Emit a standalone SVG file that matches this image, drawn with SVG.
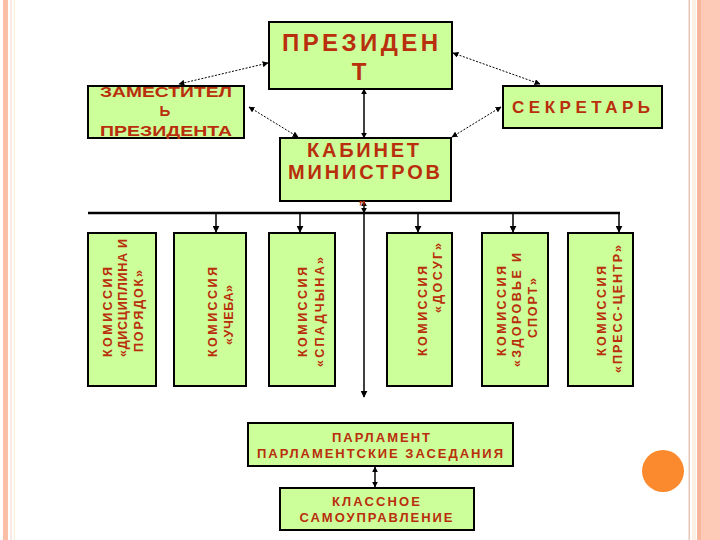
<svg xmlns="http://www.w3.org/2000/svg" width="720" height="540" viewBox="0 0 720 540">
<style>
.box{fill:#ccff99;stroke:#000;stroke-width:2}
.t{fill:#b92e0c;font-family:"Liberation Sans",Arial,sans-serif;font-weight:bold;text-anchor:middle}
.v{font-size:12.5px}
.dot{stroke:#000;stroke-width:1;stroke-dasharray:2 1.5;fill:none;marker-start:url(#ah);marker-end:url(#ah)}
.ln{stroke:#000;stroke-width:1.5;fill:none}
</style>
<defs>
<marker id="ah" viewBox="0 0 10 10" refX="9" refY="5" markerWidth="6" markerHeight="6" markerUnits="userSpaceOnUse" orient="auto-start-reverse"><path d="M0,0 L10,5 L0,10 z" fill="#000"/></marker>
<marker id="ad" viewBox="0 0 10 10" refX="9" refY="5" markerWidth="7" markerHeight="7" markerUnits="userSpaceOnUse" orient="auto-start-reverse"><path d="M0,0 L10,5 L0,10 z" fill="#000"/></marker>
</defs>
<rect width="720" height="540" fill="#fff"/>
<!-- page decorations -->
<rect x="3" y="0" width="5" height="540" fill="#fbbfa6"/>
<rect x="10.5" y="0" width="1" height="540" fill="#f3d6d0"/>
<rect x="14" y="0" width="1" height="540" fill="#f6efd6"/>
<rect x="688.5" y="0" width="1.5" height="540" fill="#e6c6b6"/>
<rect x="692" y="0" width="4" height="540" fill="#fdf0e2"/>
<rect x="697" y="0" width="4" height="540" fill="#f7b59c"/>
<rect x="701" y="0" width="19" height="540" fill="#fdcab7"/>
<circle cx="663" cy="471" r="21" fill="#fb8a2e"/>

<g id="connectors">
<line class="dot" x1="268" y1="63" x2="179" y2="84"/>
<line class="dot" x1="249" y1="107" x2="298" y2="137"/>
<line class="dot" x1="453" y1="53" x2="540" y2="84"/>
<line class="dot" x1="501" y1="107" x2="452" y2="137"/>
<line class="ln" x1="364" y1="89" x2="364" y2="138" marker-start="url(#ah)" marker-end="url(#ah)"/>
<line class="ln" x1="364" y1="201" x2="364" y2="213" marker-start="url(#ah)" marker-end="url(#ah)"/>
<line stroke="#000" stroke-width="2.5" x1="88" y1="213" x2="620" y2="213"/>
<line class="ln" x1="364" y1="213" x2="364" y2="397" marker-end="url(#ad)"/>
<line class="ln" x1="216" y1="213" x2="216" y2="232" marker-end="url(#ad)"/>
<line class="ln" x1="300" y1="213" x2="300" y2="232" marker-end="url(#ad)"/>
<line class="ln" x1="418" y1="213" x2="418" y2="232" marker-end="url(#ad)"/>
<line class="ln" x1="513" y1="213" x2="513" y2="232" marker-end="url(#ad)"/>
<line class="ln" x1="619" y1="213" x2="619" y2="232" marker-end="url(#ad)"/>
<line class="ln" x1="375" y1="467" x2="375" y2="487" stroke-width="1" marker-start="url(#ah)" marker-end="url(#ah)"/>
</g>

<g id="president">
<rect class="box" x="269" y="22" width="183" height="67"/>
<text class="t" x="360" y="51" font-size="24" textLength="156" lengthAdjust="spacing">ПРЕЗИДЕН</text>
<text class="t" x="359" y="80" font-size="24">Т</text>
</g>

<g id="deputy">
<rect class="box" x="88" y="86" width="156" height="52"/>
<text class="t" x="166" y="97" font-size="15" textLength="132" lengthAdjust="spacingAndGlyphs">ЗАМЕСТИТЕЛ</text>
<text class="t" x="165" y="116" font-size="15">Ь</text>
<text class="t" x="166" y="136" font-size="15" textLength="132" lengthAdjust="spacingAndGlyphs">ПРЕЗИДЕНТА</text>
</g>

<g id="secretary">
<rect class="box" x="503" y="86" width="159" height="42"/>
<text class="t" x="581" y="113" font-size="17" textLength="138" lengthAdjust="spacing">СЕКРЕТАРЬ</text>
</g>

<g id="cabinet">
<rect class="box" x="280" y="138" width="171" height="63"/>
<text class="t" x="363" y="157" font-size="20" textLength="112" lengthAdjust="spacing">КАБИНЕТ</text>
<text class="t" x="364" y="179" font-size="20" textLength="152" lengthAdjust="spacing">МИНИСТРОВ</text>
<text class="t" x="362" y="203" font-size="14">„</text>
</g>

<g id="c1">
<rect class="box" x="88" y="233" width="68" height="153"/>
<text class="t v" transform="translate(112,312) rotate(-90)" textLength="90" lengthAdjust="spacing">КОМИССИЯ</text>
<text class="t v" transform="translate(127,298) rotate(-90)" textLength="118" lengthAdjust="spacing">«ДИСЦИПЛИНА И</text>
<text class="t v" transform="translate(143,311) rotate(-90)" textLength="82" lengthAdjust="spacing">ПОРЯДОК»</text>
</g>
<g id="c2">
<rect class="box" x="174" y="233" width="72" height="153"/>
<text class="t v" transform="translate(217,312) rotate(-90)" textLength="90" lengthAdjust="spacing">КОМИССИЯ</text>
<text class="t v" transform="translate(233,315) rotate(-90)" textLength="60" lengthAdjust="spacing">«УЧЕБА»</text>
</g>
<g id="c3">
<rect class="box" x="269" y="233" width="66" height="153"/>
<text class="t v" transform="translate(307,312) rotate(-90)" textLength="90" lengthAdjust="spacing">КОМИССИЯ</text>
<text class="t v" transform="translate(324,312) rotate(-90)" textLength="110" lengthAdjust="spacing">«СПАДЧЫНА»</text>
</g>
<g id="c4">
<rect class="box" x="387" y="233" width="65" height="153"/>
<text class="t v" transform="translate(427,311) rotate(-90)" textLength="90" lengthAdjust="spacing">КОМИССИЯ</text>
<text class="t v" transform="translate(442,278) rotate(-90)" textLength="70" lengthAdjust="spacing">«ДОСУГ»</text>
</g>
<g id="c5">
<rect class="box" x="482" y="233" width="66" height="153"/>
<text class="t v" transform="translate(506,311) rotate(-90)" textLength="90" lengthAdjust="spacing">КОМИССИЯ</text>
<text class="t v" transform="translate(521,310) rotate(-90)" textLength="114" lengthAdjust="spacing">«ЗДОРОВЬЕ И</text>
<text class="t v" transform="translate(537,308) rotate(-90)" textLength="60" lengthAdjust="spacing">СПОРТ»</text>
</g>
<g id="c6">
<rect class="box" x="568" y="233" width="65" height="153"/>
<text class="t v" transform="translate(606,311) rotate(-90)" textLength="90" lengthAdjust="spacing">КОМИССИЯ</text>
<text class="t v" transform="translate(622,309) rotate(-90)" textLength="128" lengthAdjust="spacing">«ПРЕСС-ЦЕНТР»</text>
</g>

<g id="parliament">
<rect class="box" x="248" y="423" width="265" height="43"/>
<text class="t" x="381" y="442" font-size="13" textLength="98" lengthAdjust="spacing">ПАРЛАМЕНТ</text>
<text class="t" x="380" y="458" font-size="13" textLength="246" lengthAdjust="spacing">ПАРЛАМЕНТСКИЕ ЗАСЕДАНИЯ</text>
</g>

<g id="class-self-gov">
<rect class="box" x="280" y="488" width="194" height="42"/>
<text class="t" x="376" y="506" font-size="13" textLength="88" lengthAdjust="spacing">КЛАССНОЕ</text>
<text class="t" x="376" y="522" font-size="13" textLength="153" lengthAdjust="spacing">САМОУПРАВЛЕНИЕ</text>
</g>
</svg>
